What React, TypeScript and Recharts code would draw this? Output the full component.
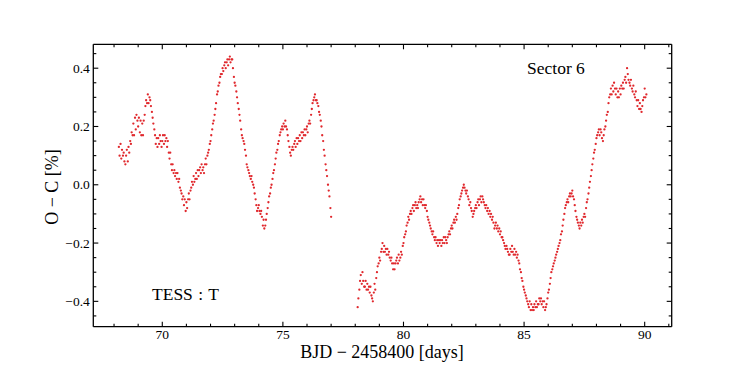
import React from "react";
import { ScatterChart, Scatter, XAxis, YAxis } from "recharts";

// Sector 6 O-C values (BJD - 2458400, percent)
const sector6Early: [number, number][] = [
[68.20,.13],[68.23,.10],[68.27,.14],[68.30,.09],[68.33,.12],[68.37,.10],[68.40,.11],[68.43,.08],[68.47,.07],
[68.50,.10],[68.53,.12],[68.57,.08],[68.60,.13],[68.63,.11],[68.67,.15],[68.70,.14],[68.73,.18],[68.77,.17],
[68.80,.21],[68.83,.17],[68.87,.23],[68.90,.19],[68.93,.24],[68.97,.22],[69.00,.20],[69.03,.23],[69.07,.18],
[69.10,.22],[69.13,.17],[69.17,.21],[69.20,.17],[69.23,.22],[69.27,.24],[69.30,.27],[69.33,.29],[69.37,.28],
[69.40,.31],[69.43,.28],[69.47,.30],[69.50,.29],[69.53,.27],[69.57,.25],[69.60,.23],[69.63,.21],[69.67,.19],
[69.70,.17],[69.73,.14],[69.77,.16],[69.80,.13],[69.83,.16],[69.87,.14],[69.90,.17],[69.93,.15],[69.97,.13],
[70.00,.15],[70.03,.17],[70.07,.14],[70.10,.17],[70.13,.15],[70.17,.16],[70.20,.13],[70.23,.15],[70.27,.11],
[70.30,.09],[70.33,.11],[70.37,.07],[70.40,.05],[70.43,.07],[70.47,.04],[70.50,.05],[70.53,.03],[70.57,.04],
[70.60,.02],[70.63,.04],[70.67,.01],[70.70,.02],[70.73,-.01],[70.77,-.02],[70.80,-.03],[70.83,-.05],[70.87,-.04],
[70.90,-.07],[70.93,-.05],[70.97,-.09],[71.00,-.06],[71.03,-.08],[71.07,-.05],[71.10,-.03],[71.13,-.05],[71.17,-.02],
[71.20,-.01],[71.23,.01],[71.27,.00],[71.30,.03],[71.33,.01],[71.37,.02],[71.40,.04],[71.43,.02],[71.47,.05],
[71.50,.03],[71.53,.05],[71.57,.06],[71.60,.04],[71.63,.07],[71.67,.05],[71.70,.06],[71.73,.04],[71.77,.07],
[71.80,.09],[71.83,.07],[71.87,.10],[71.90,.11],[71.93,.12],[71.97,.14],[72.00,.15],[72.03,.17],[72.07,.19],
[72.10,.21],[72.13,.22],[72.17,.24],[72.20,.26],[72.23,.28],[72.27,.31],[72.30,.32],[72.33,.34],[72.37,.35],
[72.40,.37],[72.43,.38],[72.47,.38],[72.50,.40],[72.53,.39],[72.57,.41],[72.60,.42],[72.63,.40],[72.67,.42],
[72.70,.43],[72.73,.41],[72.77,.43],[72.80,.44],[72.83,.42],[72.87,.43],[72.90,.43],[72.93,.40],[72.97,.37],
[73.00,.35],[73.03,.34],[73.07,.32],[73.10,.30],[73.13,.28],[73.17,.26],[73.20,.24],[73.23,.22],[73.27,.19],
[73.30,.17],[73.33,.16],[73.37,.15],[73.40,.14],[73.43,.12],[73.47,.10],[73.50,.07],[73.53,.06],[73.57,.05],
[73.60,.04],[73.63,.03],[73.67,.02],[73.70,.03],[73.73,.01],[73.77,.00],[73.80,-.01],[73.83,-.03],[73.87,-.05],
[73.90,-.07],[73.93,-.09],[73.97,-.08],[74.00,-.07],[74.03,-.09],[74.07,-.10],[74.10,-.09],[74.13,-.11],[74.17,-.14],
[74.20,-.12],[74.23,-.15],[74.27,-.14],[74.30,-.12],[74.33,-.10],[74.37,-.08],[74.40,-.06],[74.43,-.04],[74.47,-.03],
[74.50,-.01],[74.53,.00],[74.57,.02],[74.60,.04],[74.63,.05],[74.67,.07],[74.70,.09],[74.73,.11],[74.77,.12],
[74.80,.14],[74.83,.15],[74.87,.17],[74.90,.18],[74.93,.19],[74.97,.20],[75.00,.19],[75.03,.21],[75.07,.20],
[75.10,.22],[75.13,.20],[75.17,.19],[75.20,.17],[75.23,.15],[75.27,.13],[75.30,.11],[75.33,.10],[75.37,.12],
[75.40,.13],[75.43,.12],[75.47,.14],[75.50,.15],[75.53,.13],[75.57,.16],[75.60,.14],[75.63,.16],[75.67,.15],
[75.70,.17],[75.73,.15],[75.77,.18],[75.80,.16],[75.83,.18],[75.87,.17],[75.90,.19],[75.93,.17],[75.97,.19],
[76.00,.20],[76.03,.18],[76.07,.21],[76.10,.22],[76.13,.21],[76.17,.24],[76.20,.26],[76.23,.28],[76.27,.29],
[76.30,.30],[76.33,.31],[76.37,.29],[76.40,.29],[76.43,.28],[76.47,.27],[76.50,.25],[76.53,.24],[76.57,.22],
[76.60,.20],[76.63,.17],[76.67,.15],[76.70,.12],[76.73,.10],[76.77,.07],[76.80,.05],[76.83,.03],[76.87,.00],
[76.90,-.02],[76.93,-.04],[76.97,-.08],[77.00,-.11],
];

const sector6Late: [number, number][] = [
[78.10,-.42],[78.13,-.39],[78.17,-.36],[78.20,-.33],[78.23,-.31],[78.27,-.34],[78.30,-.30],[78.33,-.33],[78.37,-.35],
[78.40,-.35],[78.43,-.33],[78.47,-.36],[78.50,-.34],[78.53,-.36],[78.57,-.35],[78.60,-.37],[78.63,-.35],[78.67,-.38],
[78.70,-.39],[78.73,-.40],[78.77,-.37],[78.80,-.34],[78.83,-.36],[78.87,-.32],[78.90,-.30],[78.93,-.28],[78.97,-.27],
[79.00,-.25],[79.03,-.26],[79.07,-.23],[79.10,-.22],[79.13,-.20],[79.17,-.23],[79.20,-.21],[79.23,-.23],[79.27,-.22],
[79.30,-.24],[79.33,-.22],[79.37,-.24],[79.40,-.23],[79.43,-.25],[79.47,-.26],[79.50,-.25],[79.53,-.27],[79.57,-.29],
[79.60,-.27],[79.63,-.29],[79.67,-.27],[79.70,-.26],[79.73,-.25],[79.77,-.27],[79.80,-.24],[79.83,-.26],[79.87,-.25],
[79.90,-.23],[79.93,-.24],[79.97,-.21],[80.00,-.20],[80.03,-.18],[80.07,-.17],[80.10,-.16],[80.13,-.14],[80.17,-.13],
[80.20,-.11],[80.23,-.12],[80.27,-.10],[80.30,-.09],[80.33,-.10],[80.37,-.08],[80.40,-.07],[80.43,-.09],[80.47,-.07],
[80.50,-.06],[80.53,-.08],[80.57,-.07],[80.60,-.08],[80.63,-.06],[80.67,-.05],[80.70,-.04],[80.73,-.06],[80.77,-.05],
[80.80,-.07],[80.83,-.05],[80.87,-.07],[80.90,-.08],[80.93,-.07],[80.97,-.09],[81.00,-.11],[81.03,-.12],[81.07,-.13],
[81.10,-.14],[81.13,-.15],[81.17,-.16],[81.20,-.17],[81.23,-.16],[81.27,-.18],[81.30,-.19],[81.33,-.18],[81.37,-.20],
[81.40,-.19],[81.43,-.21],[81.47,-.19],[81.50,-.20],[81.53,-.19],[81.57,-.21],[81.60,-.19],[81.63,-.20],[81.67,-.18],
[81.70,-.20],[81.73,-.18],[81.77,-.19],[81.80,-.20],[81.83,-.18],[81.87,-.17],[81.90,-.16],[81.93,-.17],[81.97,-.15],
[82.00,-.14],[82.03,-.15],[82.07,-.13],[82.10,-.12],[82.13,-.13],[82.17,-.11],[82.20,-.12],[82.23,-.10],[82.27,-.08],
[82.30,-.07],[82.33,-.05],[82.37,-.04],[82.40,-.03],[82.43,-.02],[82.47,-.01],[82.50,.00],[82.53,-.01],[82.57,-.02],
[82.60,-.03],[82.63,-.02],[82.67,-.04],[82.70,-.05],[82.73,-.07],[82.77,-.06],[82.80,-.08],[82.83,-.09],[82.87,-.11],
[82.90,-.10],[82.93,-.09],[82.97,-.08],[83.00,-.07],[83.03,-.08],[83.07,-.06],[83.10,-.05],[83.13,-.07],[83.17,-.05],
[83.20,-.04],[83.23,-.06],[83.27,-.04],[83.30,-.05],[83.33,-.06],[83.37,-.07],[83.40,-.08],[83.43,-.07],[83.47,-.09],
[83.50,-.08],[83.53,-.10],[83.57,-.09],[83.60,-.11],[83.63,-.10],[83.67,-.12],[83.70,-.11],[83.73,-.13],[83.77,-.15],
[83.80,-.14],[83.83,-.13],[83.87,-.15],[83.90,-.14],[83.93,-.16],[83.97,-.15],[84.00,-.17],[84.03,-.16],[84.07,-.18],
[84.10,-.18],[84.13,-.19],[84.17,-.20],[84.20,-.21],[84.23,-.22],[84.27,-.21],[84.30,-.22],[84.33,-.23],[84.37,-.24],
[84.40,-.24],[84.43,-.22],[84.47,-.23],[84.50,-.21],[84.53,-.23],[84.57,-.24],[84.60,-.22],[84.63,-.24],[84.67,-.23],
[84.70,-.25],[84.73,-.24],[84.77,-.26],[84.80,-.27],[84.83,-.29],[84.87,-.30],[84.90,-.32],[84.93,-.33],[84.97,-.35],
[85.00,-.36],[85.03,-.37],[85.07,-.38],[85.10,-.39],[85.13,-.40],[85.17,-.41],[85.20,-.42],[85.23,-.40],[85.27,-.43],
[85.30,-.41],[85.33,-.43],[85.37,-.42],[85.40,-.43],[85.43,-.41],[85.47,-.42],[85.50,-.40],[85.53,-.42],[85.57,-.41],
[85.60,-.41],[85.63,-.39],[85.67,-.40],[85.70,-.39],[85.73,-.41],[85.77,-.40],[85.80,-.42],[85.83,-.40],[85.87,-.43],
[85.90,-.42],[85.93,-.41],[85.97,-.39],[86.00,-.37],[86.03,-.36],[86.07,-.34],[86.10,-.32],[86.13,-.30],[86.17,-.29],
[86.20,-.28],[86.23,-.27],[86.27,-.26],[86.30,-.25],[86.33,-.24],[86.37,-.23],[86.40,-.22],[86.43,-.21],[86.47,-.20],
[86.50,-.19],[86.53,-.17],[86.57,-.16],[86.60,-.14],[86.63,-.12],[86.67,-.10],[86.70,-.08],[86.73,-.07],[86.77,-.06],
[86.80,-.05],[86.83,-.06],[86.87,-.04],[86.90,-.03],[86.93,-.04],[86.97,-.03],[87.00,-.02],[87.03,-.04],[87.07,-.05],
[87.10,-.07],[87.13,-.09],[87.17,-.11],[87.20,-.12],[87.23,-.13],[87.27,-.14],[87.30,-.15],[87.33,-.13],[87.37,-.14],
[87.40,-.12],[87.43,-.13],[87.47,-.11],[87.50,-.10],[87.53,-.11],[87.57,-.08],[87.60,-.06],[87.63,-.05],[87.67,-.03],
[87.70,-.01],[87.73,.01],[87.77,.03],[87.80,.05],[87.83,.07],[87.87,.09],[87.90,.11],[87.93,.12],[87.97,.14],
[88.00,.16],[88.03,.17],[88.07,.18],[88.10,.19],[88.13,.17],[88.17,.19],[88.20,.18],[88.23,.16],[88.27,.15],
[88.30,.17],[88.33,.19],[88.37,.20],[88.40,.22],[88.43,.24],[88.47,.25],[88.50,.28],[88.53,.30],[88.57,.31],
[88.60,.33],[88.63,.31],[88.67,.34],[88.70,.32],[88.73,.35],[88.77,.33],[88.80,.31],[88.83,.33],[88.87,.30],
[88.90,.32],[88.93,.30],[88.97,.33],[89.00,.31],[89.03,.34],[89.07,.33],[89.10,.35],[89.13,.33],[89.17,.36],
[89.20,.37],[89.23,.35],[89.27,.40],[89.30,.38],[89.33,.36],[89.37,.35],[89.40,.34],[89.43,.36],[89.47,.33],
[89.50,.32],[89.53,.34],[89.57,.31],[89.60,.30],[89.63,.32],[89.67,.29],[89.70,.27],[89.73,.29],[89.77,.26],
[89.80,.28],[89.83,.26],[89.87,.25],[89.90,.27],[89.93,.29],[89.97,.30],[90.00,.33],[90.03,.30],[90.07,.31],
];

const xTicks = [68, 69, 70, 71, 72, 73, 74, 75, 76, 77, 78, 79, 80, 81, 82, 83, 84, 85, 86, 87, 88, 89, 90, 91];
const xMajor = [70, 75, 80, 85, 90];
const xLabels = ["70", "75", "80", "85", "90"];
const yTicks = [-0.45, -0.4, -0.35, -0.3, -0.25, -0.2, -0.15, -0.1, -0.05, 0, 0.05, 0.1, 0.15, 0.2, 0.25, 0.3, 0.35, 0.4, 0.45];
const yMajor = [-0.4, -0.2, 0, 0.2, 0.4];
const yLabels = ["\u22120.4", "\u22120.2", "0.0", "0.2", "0.4"];

const xDomain: [number, number] = [67.14, 91.12];
const yDomain: [number, number] = [-0.487, 0.482];

const RED = "#e0282d";
const FONT = "'Liberation Serif', 'Times New Roman', serif";

const toPoints = (arr: [number, number][]) => arr.map(([t, v]) => ({ t, v }));

const majorIndex = (arr: number[], v: number) => arr.findIndex((m) => Math.abs(m - v) < 1e-6);

const Dot = (p: any) => <circle cx={p.cx} cy={p.cy} r={1.15} fill={RED} />;

const BottomTick = (p: any) => {
  const i = majorIndex(xMajor, p.payload.value);
  const len = i >= 0 ? 5 : 3;
  return (
    <g>
      <line x1={p.x} y1={p.y} x2={p.x} y2={p.y - len} stroke="#000" strokeWidth={1.1} />
      {i >= 0 && (
        <text x={p.x} y={p.y + 12.5} textAnchor="middle" fontSize={13.5} fontFamily={FONT} fill="#000">
          {xLabels[i]}
        </text>
      )}
    </g>
  );
};

const TopTick = (p: any) => {
  const i = majorIndex(xMajor, p.payload.value);
  const len = i >= 0 ? 5 : 3;
  return <line x1={p.x} y1={p.y} x2={p.x} y2={p.y + len} stroke="#000" strokeWidth={1.1} />;
};

const LeftTick = (p: any) => {
  const i = majorIndex(yMajor, p.payload.value);
  const len = i >= 0 ? 5 : 3;
  return (
    <g>
      <line x1={p.x} y1={p.y} x2={p.x + len} y2={p.y} stroke="#000" strokeWidth={1.1} />
      {i >= 0 && (
        <text x={p.x - 3.5} y={p.y + 4.5} textAnchor="end" fontSize={13.5} fontFamily={FONT} fill="#000">
          {yLabels[i]}
        </text>
      )}
    </g>
  );
};

const RightTick = (p: any) => {
  const i = majorIndex(yMajor, p.payload.value);
  const len = i >= 0 ? 5 : 3;
  return <line x1={p.x} y1={p.y} x2={p.x - len} y2={p.y} stroke="#000" strokeWidth={1.1} />;
};

const axisLine = { stroke: "#000", strokeWidth: 1.3 };
const AX = 20;

export default function App() {
  return (
    <div style={{ position: "absolute", left: 0, top: 0, width: 747, height: 374, background: "#fff" }}>
      <ScatterChart
        width={747}
        height={374}
        margin={{ top: 44.3 - AX, right: 75.3 - AX, bottom: 47.3 - AX, left: 93.3 - AX }}
      >
        <XAxis
          xAxisId="b"
          dataKey="t"
          type="number"
          domain={xDomain}
          allowDataOverflow
          ticks={xTicks}
          interval={0}
          height={AX}
          tickSize={0}
          tickMargin={0}
          tickLine={false}
          tick={<BottomTick />}
          axisLine={axisLine}
          orientation="bottom"
        />
        <XAxis
          xAxisId="t"
          dataKey="t"
          type="number"
          domain={xDomain}
          allowDataOverflow
          ticks={xTicks}
          interval={0}
          height={AX}
          tickSize={0}
          tickMargin={0}
          tickLine={false}
          tick={<TopTick />}
          axisLine={axisLine}
          orientation="top"
        />
        <YAxis
          yAxisId="l"
          dataKey="v"
          type="number"
          domain={yDomain}
          allowDataOverflow
          ticks={yTicks}
          interval={0}
          width={AX}
          tickSize={0}
          tickMargin={0}
          tickLine={false}
          tick={<LeftTick />}
          axisLine={axisLine}
          orientation="left"
        />
        <YAxis
          yAxisId="r"
          dataKey="v"
          type="number"
          domain={yDomain}
          allowDataOverflow
          ticks={yTicks}
          interval={0}
          width={AX}
          tickSize={0}
          tickMargin={0}
          tickLine={false}
          tick={<RightTick />}
          axisLine={axisLine}
          orientation="right"
        />
        <Scatter xAxisId="b" yAxisId="l" data={toPoints(sector6Early)} fill={RED} shape={<Dot />} isAnimationActive={false} />
        <Scatter xAxisId="b" yAxisId="l" data={toPoints(sector6Late)} fill={RED} shape={<Dot />} isAnimationActive={false} />
      </ScatterChart>

      <div style={{ position: "absolute", left: 232, top: 344, width: 300, textAlign: "center", fontFamily: FONT, fontSize: 18, lineHeight: "16px", color: "#000", whiteSpace: "nowrap" }}>
        BJD − 2458400 [days]
      </div>
      <div style={{ position: "absolute", left: 52 - 60, top: 186.5 - 10, width: 120, height: 20, textAlign: "center", fontFamily: FONT, fontSize: 18, lineHeight: "20px", color: "#000", transform: "rotate(-90deg)", transformOrigin: "center", whiteSpace: "nowrap" }}>
        O − C [%]
      </div>
      <div style={{ position: "absolute", left: 527, top: 58, fontFamily: FONT, fontSize: 17.5, lineHeight: "20px", color: "#000", whiteSpace: "nowrap" }}>
        Sector 6
      </div>
      <div style={{ position: "absolute", left: 152, top: 283.5, fontFamily: FONT, fontSize: 17.5, lineHeight: "20px", color: "#000", whiteSpace: "nowrap", wordSpacing: 1 }}>
        TESS : T
      </div>
    </div>
  );
}
